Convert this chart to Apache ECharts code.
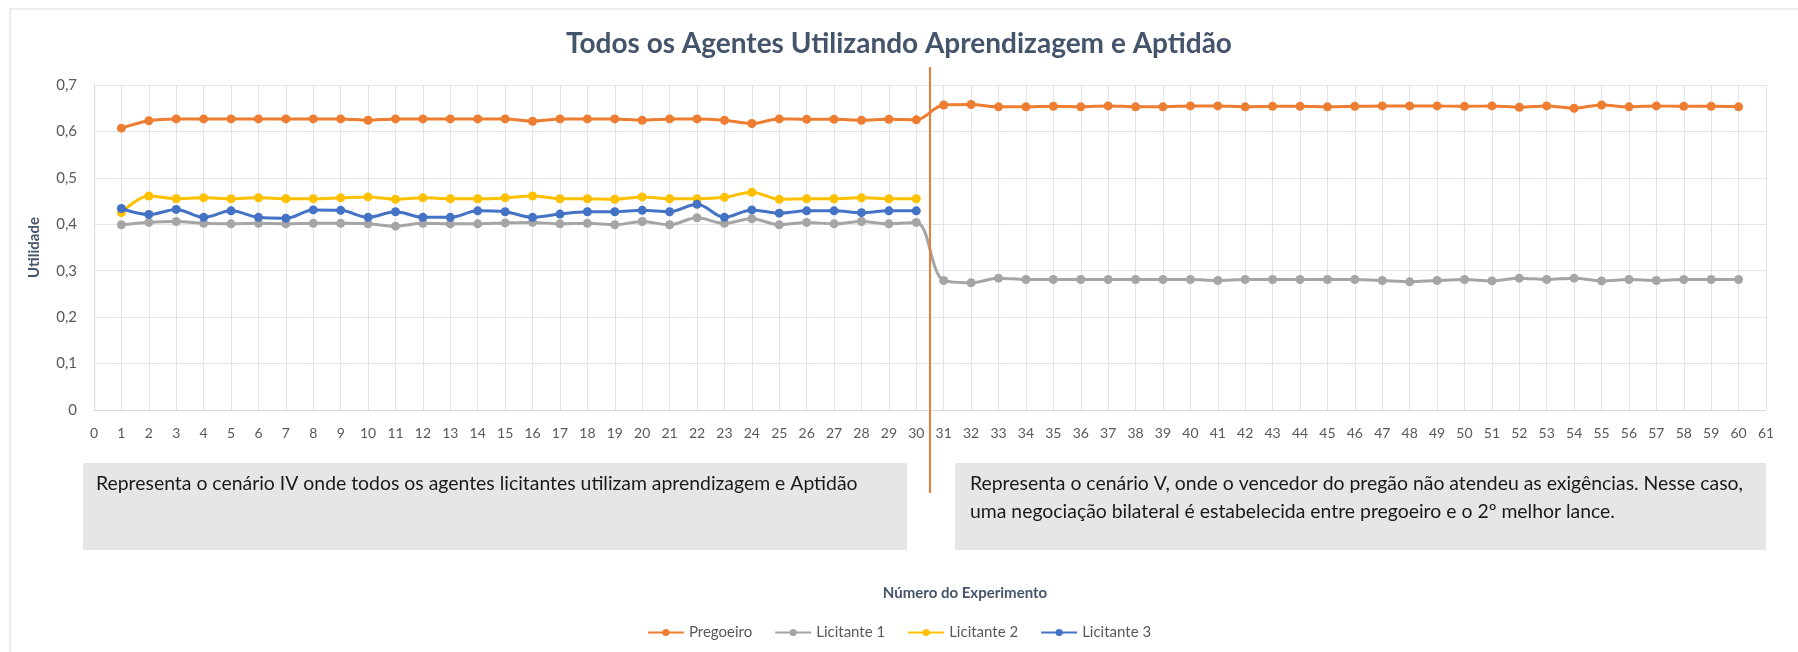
<!DOCTYPE html>
<html>
<head>
<meta charset="utf-8">
<script src="https://cdn.jsdelivr.net/npm/echarts@6/dist/echarts.min.js"></script>
<style>
html, body { margin: 0; padding: 0; background: #fff; }
#grafico-agentes { width: 1798px; height: 652px; }
</style>
</head>
<body>
<div id="grafico-agentes"></div>
<script>
// Número do experimento (eixo x)
const experimentos = [1, 2, 3, 4, 5, 6, 7, 8, 9, 10, 11, 12, 13, 14, 15, 16, 17, 18, 19, 20,
    21, 22, 23, 24, 25, 26, 27, 28, 29, 30, 31, 32, 33, 34, 35, 36, 37, 38, 39, 40,
    41, 42, 43, 44, 45, 46, 47, 48, 49, 50, 51, 52, 53, 54, 55, 56, 57, 58, 59, 60];

const pregoeiro = [0.607, 0.623, 0.627, 0.627, 0.627, 0.627, 0.627, 0.627, 0.627, 0.624,
    0.627, 0.627, 0.627, 0.627, 0.627, 0.622, 0.627, 0.627, 0.627, 0.624,
    0.627, 0.627, 0.624, 0.617, 0.627, 0.626, 0.626, 0.624, 0.626, 0.625,
    0.657, 0.658, 0.653, 0.653, 0.654, 0.653, 0.655, 0.653, 0.653, 0.655,
    0.655, 0.653, 0.654, 0.654, 0.653, 0.654, 0.655, 0.655, 0.655, 0.654,
    0.655, 0.652, 0.655, 0.650, 0.657, 0.653, 0.655, 0.654, 0.654, 0.653];

const licitante1 = [0.399, 0.404, 0.406, 0.402, 0.401, 0.402, 0.401, 0.402, 0.402, 0.401,
    0.396, 0.402, 0.401, 0.401, 0.403, 0.404, 0.401, 0.402, 0.399, 0.406,
    0.399, 0.414, 0.402, 0.412, 0.399, 0.404, 0.401, 0.406, 0.401, 0.404,
    0.279, 0.274, 0.284, 0.281, 0.281, 0.281, 0.281, 0.281, 0.281, 0.281,
    0.279, 0.281, 0.281, 0.281, 0.281, 0.281, 0.279, 0.276, 0.279, 0.281,
    0.278, 0.284, 0.281, 0.284, 0.278, 0.281, 0.279, 0.281, 0.281, 0.281];

const licitante2 = [0.425, 0.461, 0.455, 0.457, 0.455, 0.457, 0.455, 0.455, 0.457, 0.459,
    0.454, 0.457, 0.455, 0.455, 0.457, 0.461, 0.455, 0.455, 0.454, 0.459,
    0.455, 0.455, 0.458, 0.469, 0.454, 0.455, 0.455, 0.457, 0.455, 0.455];

const licitante3 = [0.434, 0.421, 0.432, 0.415, 0.429, 0.415, 0.413, 0.431, 0.430, 0.415,
    0.427, 0.415, 0.415, 0.429, 0.427, 0.415, 0.422, 0.427, 0.427, 0.430,
    0.427, 0.443, 0.415, 0.431, 0.424, 0.429, 0.429, 0.425, 0.429, 0.429];

const nomesSeries = ['Pregoeiro', 'Licitante 1', 'Licitante 2', 'Licitante 3'];
const cores = ['#ed7d31', '#a5a5a5', '#ffc000', '#4472c4'];

const textoCenarioIV = 'Representa o cenário IV onde todos os agentes licitantes utilizam aprendizagem e Aptidão';
const textoCenarioV = 'Representa o cenário V, onde o vencedor do pregão não atendeu as exigências. Nesse caso,\numa negociação bilateral é estabelecida entre pregoeiro e o 2º melhor lance.';

const FONTE = 'Lato, "Open Sans", sans-serif';

function pares(valores) {
    return valores.map((v, i) => [experimentos[i], v]);
}

function renderGraficoAgentes() {
    const chartDom = document.getElementById('grafico-agentes');
    const myChart = echarts.init(chartDom);

    const dados = [pregoeiro, licitante1, licitante2, licitante3];

    const option = {
        animation: false,
        textStyle: { fontFamily: FONTE },
        title: {
            text: 'Todos os Agentes Utilizando Aprendizagem e Aptidão',
            left: 'center',
            top: 25,
            textStyle: { fontFamily: FONTE, fontSize: 28, fontWeight: 'bold', color: '#44546a' }
        },
        legend: {
            data: nomesSeries,
            left: 'center',
            top: 620,
            itemWidth: 36,
            itemHeight: 9,
            itemGap: 22,
            textStyle: { fontFamily: FONTE, fontSize: 15, color: '#595959' }
        },
        grid: { left: 94, right: 32, top: 85, bottom: 242 },
        xAxis: {
            type: 'value',
            min: 0,
            max: 61,
            interval: 1,
            axisLine: { lineStyle: { color: '#d9d9d9' } },
            axisTick: { show: false },
            axisLabel: { margin: 16, fontSize: 14, color: '#595959', fontFamily: FONTE },
            splitLine: { show: true, lineStyle: { color: '#e1e4ea' } }
        },
        yAxis: {
            type: 'value',
            min: 0,
            max: 0.7,
            interval: 0.1,
            name: 'Utilidade',
            nameLocation: 'middle',
            nameRotate: 90,
            nameGap: 52,
            nameTextStyle: { fontFamily: FONTE, fontSize: 15, fontWeight: 'bold', color: '#44546a' },
            axisLine: { show: true, lineStyle: { color: '#d9d9d9' } },
            axisTick: { show: false },
            axisLabel: {
                margin: 17,
                fontSize: 15,
                color: '#595959',
                fontFamily: FONTE,
                formatter: v => v === 0 ? '0' : v.toFixed(1).replace('.', ',')
            },
            splitLine: { lineStyle: { color: '#e1e4ea' } }
        },
        series: nomesSeries.map((nome, i) => ({
            name: nome,
            type: 'line',
            data: pares(dados[i]),
            smooth: 0.35,
            symbol: 'circle',
            symbolSize: 9,
            itemStyle: { color: cores[i] },
            lineStyle: { color: cores[i], width: 3 },
            z: 3 + i
        }))
    };
    myChart.setOption(option);

    // linha vertical separando os cenários + caixas de texto
    const xDivisa = myChart.convertToPixel({ xAxisIndex: 0 }, 30.5);
    myChart.setOption({
        graphic: [
            {
                type: 'rect', silent: true, z: 0,
                shape: { x: 10, y: 9, width: 1800, height: 660 },
                style: { fill: 'none', stroke: '#d9d9d9', lineWidth: 1 }
            },
            {
                type: 'rect', z: 1,
                shape: { x: 83, y: 463, width: 824, height: 87 },
                style: { fill: '#e7e6e6' }
            },
            {
                type: 'rect', z: 1,
                shape: { x: 955, y: 463, width: 811, height: 87 },
                style: { fill: '#e7e6e6' }
            },
            {
                type: 'text', z: 2,
                x: 96, y: 470,
                style: { text: textoCenarioIV, font: '19.4px ' + FONTE, fill: '#1a1a1a', lineHeight: 28 }
            },
            {
                type: 'text', z: 2,
                x: 970, y: 470,
                style: { text: textoCenarioV, font: '19.4px ' + FONTE, fill: '#1a1a1a', lineHeight: 28 }
            },
            {
                type: 'text', z: 2,
                x: 965, y: 593,
                style: {
                    text: 'Número do Experimento', font: 'bold 15px ' + FONTE, fill: '#44546a',
                    align: 'center', verticalAlign: 'middle'
                }
            },
            {
                type: 'line', z: 10,
                shape: { x1: xDivisa, y1: 67, x2: xDivisa, y2: 493 },
                style: { stroke: '#ed7d31', lineWidth: 2 }
            }
        ]
    });
}

document.addEventListener('DOMContentLoaded', () => {
    renderGraficoAgentes();
});
</script>
</body>
</html>
